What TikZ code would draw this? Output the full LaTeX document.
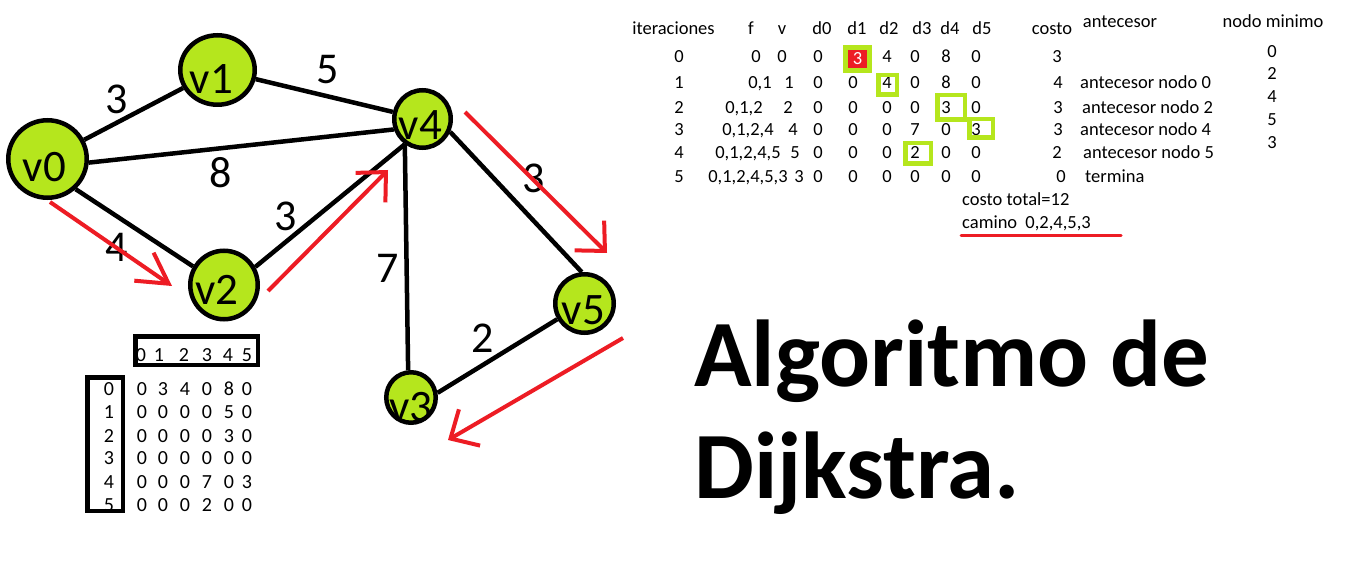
\documentclass[tikz,border=0pt]{standalone}
\usepackage{fontspec}
\setmainfont{Carlito}
\usetikzlibrary{shapes.geometric,arrows.meta}
\definecolor{paintlime}{RGB}{181,230,29}
\definecolor{paintred}{RGB}{237,28,36}
\newcommand\vtxfont{\fontsize{45}{54}\selectfont}
\newcommand\wgtfont{\fontsize{44}{52}\selectfont}
\newcommand\tblfont{\fontsize{18.5}{22}\selectfont}
\newcommand\mtxfont{\fontsize{20}{24}\selectfont}
\newcommand\ttlfont{\fontsize{95}{112}\selectfont\bfseries}
\tikzset{
  vert/.style={ellipse, draw, line width=4.5pt, fill=paintlime, inner sep=0pt},
  vlab/.style={font=\vtxfont, inner sep=0pt},
  edge/.style={line width=4.5pt},
  wgt/.style={font=\wgtfont, inner sep=0pt},
  redarr/.style={draw=paintred, line width=4pt, -{Straight Barb[length=22pt,width=42pt]}},
  tbl/.style={font=\tblfont, inner sep=0pt, anchor=base},
  mtx/.style={font=\mtxfont, inner sep=0pt, anchor=base},
  hit/.style={draw=paintlime, line width=4.5pt, inner sep=0pt},
  frame/.style={draw, line width=4.5pt, inner sep=0pt}
}
\begin{document}
\begin{tikzpicture}[x=1pt,y=-1pt]
  \useasboundingbox[fill=white] (0,0) rectangle (1354,561);
  \draw
  (47.5,159) node[vert, minimum width=78.5pt, minimum height=77.5pt, label={[vlab, xshift=-3pt, yshift=-8pt]center:v0}](v0){}
  (217.5,70) node[vert, minimum width=74.5pt, minimum height=69.5pt, label={[vlab, xshift=-6pt, yshift=-9pt]center:v1}](v1){}
  (224,285) node[vert, minimum width=67.5pt, minimum height=68.5pt, label={[vlab, xshift=-7pt, yshift=-5pt]center:v2}](v2){}
  (411,397.5) node[vert, minimum width=49.5pt, minimum height=50.5pt, label={[vlab, yshift=-10pt]center:v3}](v3){}
  (422.5,119) node[vert, minimum width=56.5pt, minimum height=57.5pt, label={[vlab, xshift=-2pt, yshift=-6pt]center:v4}](v4){}
  (584.5,303.5) node[vert, minimum width=58.5pt, minimum height=58.5pt, label={[vlab, xshift=-1pt, yshift=-7pt]center:v5}](v5){};
  \draw[edge] (v0) -- node[wgt, xshift=-17pt, yshift=15pt]{3} (v1);
  \draw[edge] (v1) -- node[wgt, xshift=3pt, yshift=26pt]{5} (v4);
  \draw[edge] (v0.-5) -- node[wgt, xshift=-21pt, yshift=-27pt]{8} (v4.200);
  \draw[edge] (v0.-47) -- node[wgt, xshift=-18pt, yshift=-20pt]{4} (v2.149);
  \draw[edge] (v2.30) -- node[wgt, pos=0.3, xshift=-14pt, yshift=14pt]{3} (v4.235);
  \draw[edge] (v4.235) -- node[wgt, xshift=-19pt, yshift=-11pt]{7} (v3.96);
  \draw[edge] (v4.-25) -- node[wgt, xshift=18pt, yshift=24pt]{3} (v5.95);
  \draw[edge] (v3.10) -- node[wgt, xshift=-15pt, yshift=18pt]{2} (v5.210);

  \coordinate (r1a) at (50,202);   \coordinate (r1b) at (172,286);
  \coordinate (r2a) at (268,291);  \coordinate (r2b) at (388,170);
  \coordinate (r3a) at (465,112);  \coordinate (r3b) at (607,253);
  \coordinate (r4a) at (623,338);  \coordinate (r4b) at (448,440);
  \draw[redarr, -{Straight Barb[length=30pt,width=34pt]}] (r1a) -- (r1b);
  \draw[redarr] (r2a) -- (r2b);
  \draw[redarr] (r3a) -- (r3b);
  \draw[redarr] (r4a) -- (r4b);

  \node[frame, minimum width=122.5pt, minimum height=28.5pt] (colbox) at (196.5,350.5) {};
  \foreach \d/\x in {0/141,1/159,2/184,3/207,4/228,5/247}
    \node[mtx] (col\d) at (\x,361) {\d};
  \foreach \y/\vals [count=\r from 0] in {395/{0,3,4,0,8,0}, 418/{0,0,0,0,5,0}, 442/{0,0,0,0,3,0},
      464/{0,0,0,0,0,0}, 488/{0,0,0,7,0,3}, 511/{0,0,0,2,0,0}} {
    \node[mtx] (row\r) at (109,\y) {\r};
    \foreach \val [count=\c] in \vals {
      \pgfmathsetmacro\mx{{142,163,185,207,229,247}[\c-1]}
      \node[mtx] (m\r\c) at (\mx,\y) {\val};
    }
  }
  \node[frame, minimum width=35.5pt, minimum height=133.5pt] (rowbox) at (105,444) {};

  \node[tbl] (hdit) at (673.5,35) {iteraciones};
  \node[tbl] (hdf) at (751,35) {f};
  \node[tbl] (hdv) at (782,35) {v};
  \foreach \d/\x in {0/822,1/857,2/889,3/922,4/950,5/982}
    \node[tbl] (hdd\d) at (\x,35) {d\d};
  \node[tbl] (hdcost) at (1052,35) {costo};
  \node[tbl] (hdant) at (1120,28) {antecesor};
  \node[tbl] (hdmin) at (1273,28) {nodo minimo};

  \node[hit, fill=paintred, text=white, font=\tblfont, minimum width=24pt, minimum height=23pt] (best0) at (857.5,59) {3};
  \foreach \it/\y/\f/\fx/\v/\vx/\cost/\cx in {0/63/0/756/0/782/3/1057, 1/89/{0,1}/760/1/789/4/1058,
      2/114/{0,1,2}/744/2/788/3/1058, 3/136/{0,1,2,4}/748/4/793/3/1058,
      4/159/{0,1,2,4,5}/748/5/795/2/1057, 5/183/{0,1,2,4,5,3}/748/3/799/0/1061} {
    \node[tbl] (it\it) at (679,\y) {\it};
    \node[tbl] (f\it) at (\fx,\y) {\f};
    \node[tbl] (v\it) at (\vx,\y) {\v};
    \node[tbl] (cost\it) at (\cx,\y) {\cost};
  }
  \foreach \y/\vals [count=\r from 0] in {63/{0,{},4,0,8,0}, 89/{0,0,4,0,8,0}, 114/{0,0,0,0,3,0},
      136/{0,0,0,7,0,3}, 159/{0,0,0,2,0,0}, 183/{0,0,0,0,0,0}} {
    \foreach \val [count=\c] in \vals {
      \pgfmathsetmacro\dx{{818,853,887,915,946,976}[\c-1]}
      \node[tbl] (d\r\c) at (\dx,\y) {\val};
    }
  }
  \node[hit, minimum width=18.5pt, minimum height=19.5pt] (best1) at (887.5,85) {};
  \node[hit, minimum width=27.5pt, minimum height=24.5pt] (best2) at (951,107.5) {};
  \node[hit, minimum width=23.5pt, minimum height=18.5pt] (best3) at (981,128.5) {};
  \node[hit, minimum width=25.5pt, minimum height=20.5pt] (best4) at (918,153.5) {};
  \foreach \r/\x/\y/\txt in {1/1080/89/antecesor nodo 0, 2/1082/114/antecesor nodo 2,
      3/1080/136/antecesor nodo 4, 4/1083/159/antecesor nodo 5, 5/1085/183/termina}
    \node[tbl, anchor=base west] (ant\r) at (\x,\y) {\txt};
  \foreach \n/\y [count=\k] in {0/58,2/80,4/103,5/126,3/149}
    \node[tbl] (min\k) at (1272,\y) {\n};

  \node[tbl, anchor=base west] (total) at (962,206) {costo total=12};
  \node[tbl, anchor=base west] (camino) at (962,229) {camino\hspace{4pt} 0,2,4,5,3};
  \draw[paintred, line width=3pt, line cap=round] (961,236) -- (1121,236);

  \node[font=\ttlfont, inner sep=0pt, anchor=base west] (ttl1) at (694,386) {Algoritmo de};
  \node[font=\ttlfont, inner sep=0pt, anchor=base west] (ttl2) at (694,498) {Dijkstra.};
\end{tikzpicture}
\end{document}
